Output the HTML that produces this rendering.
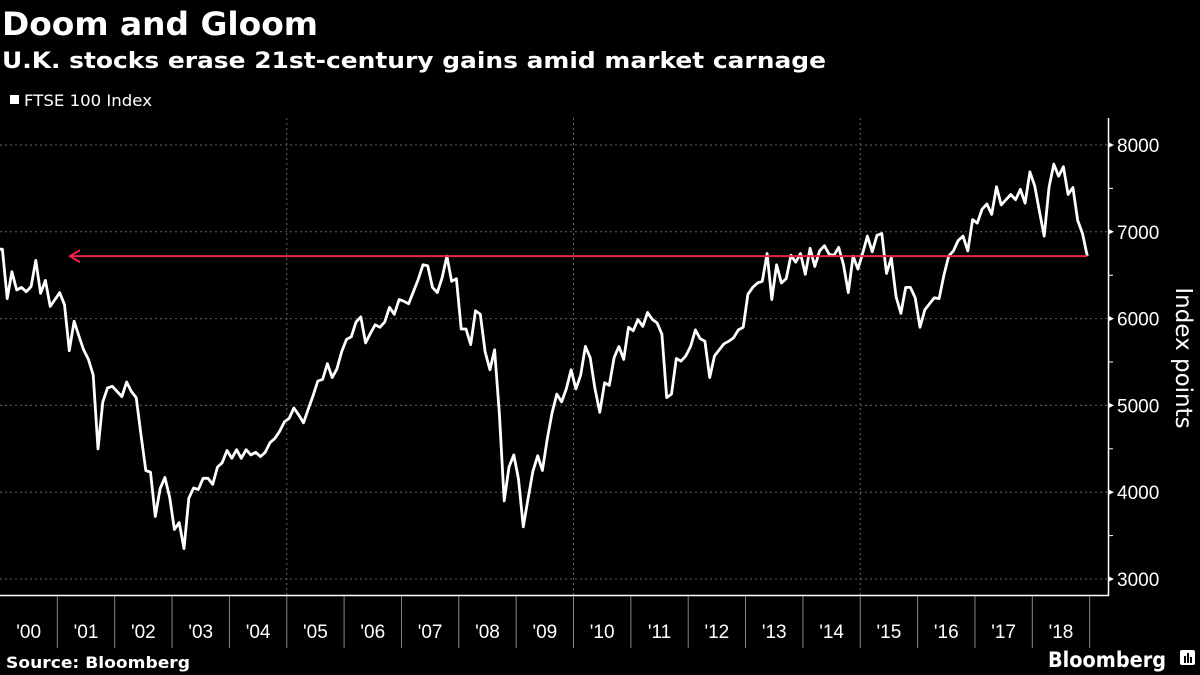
<!DOCTYPE html>
<html><head><meta charset="utf-8"><style>
html,body{margin:0;padding:0;background:#000;}
body{width:1200px;height:675px;overflow:hidden;font-family:"Liberation Sans","DejaVu Sans",sans-serif;color:#fff;position:relative}
</style></head><body>
<svg id="chart" width="1200" height="675" viewBox="0 0 1200 675" xmlns="http://www.w3.org/2000/svg" style="position:absolute;left:0;top:0">
<text x="2" y="35" fill="#fff" font-size="32" font-weight="bold" font-family="DejaVu Sans, sans-serif" textLength="316" lengthAdjust="spacingAndGlyphs">Doom and Gloom</text>
<text x="2" y="68" fill="#fff" font-size="22" font-weight="bold" font-family="DejaVu Sans, sans-serif" textLength="824" lengthAdjust="spacingAndGlyphs">U.K. stocks erase 21st-century gains amid market carnage</text>
<rect x="10" y="95" width="9" height="9" fill="#fff"/>
<text x="24" y="106" fill="#fff" font-size="16" font-family="DejaVu Sans, sans-serif" textLength="128" lengthAdjust="spacingAndGlyphs">FTSE 100 Index</text>
<g id="grid"></g>
<g id="axes"></g>
<g id="series"></g>
<text transform="translate(1176,358) rotate(90)" text-anchor="middle" fill="#fff" font-size="23" font-family="DejaVu Sans, sans-serif">Index points</text>
<text x="6" y="668" fill="#fff" font-size="16" font-weight="bold" font-family="DejaVu Sans, sans-serif" textLength="184" lengthAdjust="spacingAndGlyphs">Source: Bloomberg</text>
<text x="1048" y="667" fill="#fff" font-size="21" font-weight="bold" font-family="DejaVu Sans, sans-serif" textLength="118" lengthAdjust="spacingAndGlyphs">Bloomberg</text>
<g>
<rect x="1180" y="650" width="15" height="15" rx="2" fill="#fff"/>
<rect x="1184" y="656" width="2" height="7" fill="#000"/><rect x="1187" y="653" width="2" height="10" fill="#000"/><rect x="1190" y="657" width="2" height="6" fill="#000"/>
</g>
</svg>
<script>
const years=['00','01','02','03','04','05','06','07','08','09','10','11','12','13','14','15','16','17','18'];
const yTicks=[3000,4000,5000,6000,7000,8000];
const refLevel=6720;
const v2000=[6800,6230,6540,6330,6360,6310,6370,6670,6290,6440,6140,6220];
const v2001=[6300,6160,5630,5970,5800,5640,5530,5350,4500,5040,5200,5220];
const v2002=[5160,5100,5270,5160,5090,4660,4250,4230,3720,4040,4170,3940];
const v2003=[3570,3650,3350,3930,4050,4030,4160,4160,4090,4290,4340,4480];
const v2004=[4390,4490,4390,4490,4430,4460,4410,4460,4570,4620,4700,4810];
const v2005=[4850,4970,4890,4800,4960,5110,5280,5300,5480,5320,5420,5620];
const v2006=[5760,5790,5960,6020,5720,5830,5930,5900,5960,6130,6050,6220];
const v2007=[6200,6170,6310,6450,6620,6610,6360,6300,6470,6720,6430,6460];
const v2008=[5880,5880,5700,6090,6050,5620,5410,5640,4900,3900,4290,4430];
const v2009=[4150,3600,3930,4240,4420,4250,4610,4910,5130,5040,5190,5410];
const v2010=[5190,5350,5680,5550,5190,4920,5260,5230,5550,5680,5530,5900];
const v2011=[5860,5990,5910,6070,5990,5950,5820,5090,5130,5540,5510,5570];
const v2012=[5680,5870,5770,5740,5320,5570,5640,5710,5740,5780,5870,5900];
const v2013=[6280,6360,6410,6430,6750,6220,6620,6410,6460,6730,6650,6750];
const v2014=[6510,6810,6600,6780,6840,6740,6730,6820,6620,6300,6720,6570];
const v2015=[6750,6950,6770,6960,6980,6520,6700,6250,6060,6360,6360,6240];
const v2016=[5900,6100,6170,6240,6230,6500,6720,6780,6900,6950,6780,7140];
const v2017=[7100,7260,7320,7200,7520,7310,7370,7430,7370,7490,7330,7690];
const v2018=[7530,7230,6950,7510,7780,7640,7750,7430,7510,7130,6980,6720];
const series=[v2000,v2001,v2002,v2003,v2004,v2005,v2006,v2007,v2008,v2009,v2010,v2011,v2012,v2013,v2014,v2015,v2016,v2017,v2018];

const NS='http://www.w3.org/2000/svg';
const YW=57.35;
const xScale=t=>t*YW;
const yScale=v=>579-(v-3000)*0.0868;
function mk(tag,attrs,parent){const e=document.createElementNS(NS,tag);for(const k in attrs)e.setAttribute(k,attrs[k]);parent.appendChild(e);return e;}
const grid=document.getElementById('grid'),axes=document.getElementById('axes'),ser=document.getElementById('series');
const xEnd=1108;
yTicks.forEach(v=>{
  const y=yScale(v);
  const l=mk('line',{x1:0,x2:xEnd,y1:y,y2:y,stroke:'#666','stroke-width':1,'stroke-dasharray':'2,3'},grid);
  
  
  const tk=mk('path',{d:`M${xEnd} ${y-3}L${xEnd+6} ${y}L${xEnd} ${y+3}Z`,fill:'#fff'},axes);
  
  
  const t=mk('text',{x:xEnd+9,y:y+7,fill:'#fff','font-size':19},axes);
  t.textContent=v;
  
  
  if(v<8000){const ym=yScale(v+500);const m=mk('line',{x1:xEnd,x2:xEnd+5,y1:ym,y2:ym,stroke:'#fff'},axes);}
});
[5,10,15].forEach(i=>{const x=xScale(i);const l=mk('line',{x1:x,x2:x,y1:118,y2:595,stroke:'#666','stroke-dasharray':'2,3'},grid);});
const ax=mk('path',{d:`M0 595.5H${xEnd+0.5}V118`,stroke:'#fff','stroke-width':1.5,fill:'none'},axes);


years.forEach((yl,i)=>{
  const x=xScale(i);
  if(i>0){const s=mk('line',{x1:x,x2:x,y1:596,y2:648,stroke:'#888'},axes);}
  const t=mk('text',{x:xScale(i+0.5),y:638,fill:'#fff','font-size':19,'text-anchor':'middle'},axes);
  t.textContent="'"+yl;
  
  
});
const s2=mk('line',{x1:xScale(19),x2:xScale(19),y1:596,y2:648,stroke:'#888'},axes);


let d='';
series.forEach((arr,yi)=>arr.forEach((v,m)=>{const x=xScale(yi+(m+0.5)/12),y=yScale(v);d+=(d?'L':'M')+x.toFixed(1)+' '+y.toFixed(1);}));
const first=yScale(v2000[0]);d='M0 '+first.toFixed(1)+d.replace(/^M/,'L');
const line=mk('path',{d:d,stroke:'#fff','stroke-width':2.8,fill:'none','stroke-linejoin':'round'},ser);


const ry=yScale(refLevel),rx2=xScale(18+11.5/12);
const rl=mk('line',{x1:72,x2:rx2,y1:ry,y2:ry,stroke:'#e8254a','stroke-width':2},ser);


const ah=mk('path',{d:`M80 ${ry-6}L70 ${ry}L80 ${ry+6}`,stroke:'#e8254a','stroke-width':2,fill:'none'},ser);


</script>
</body></html>
